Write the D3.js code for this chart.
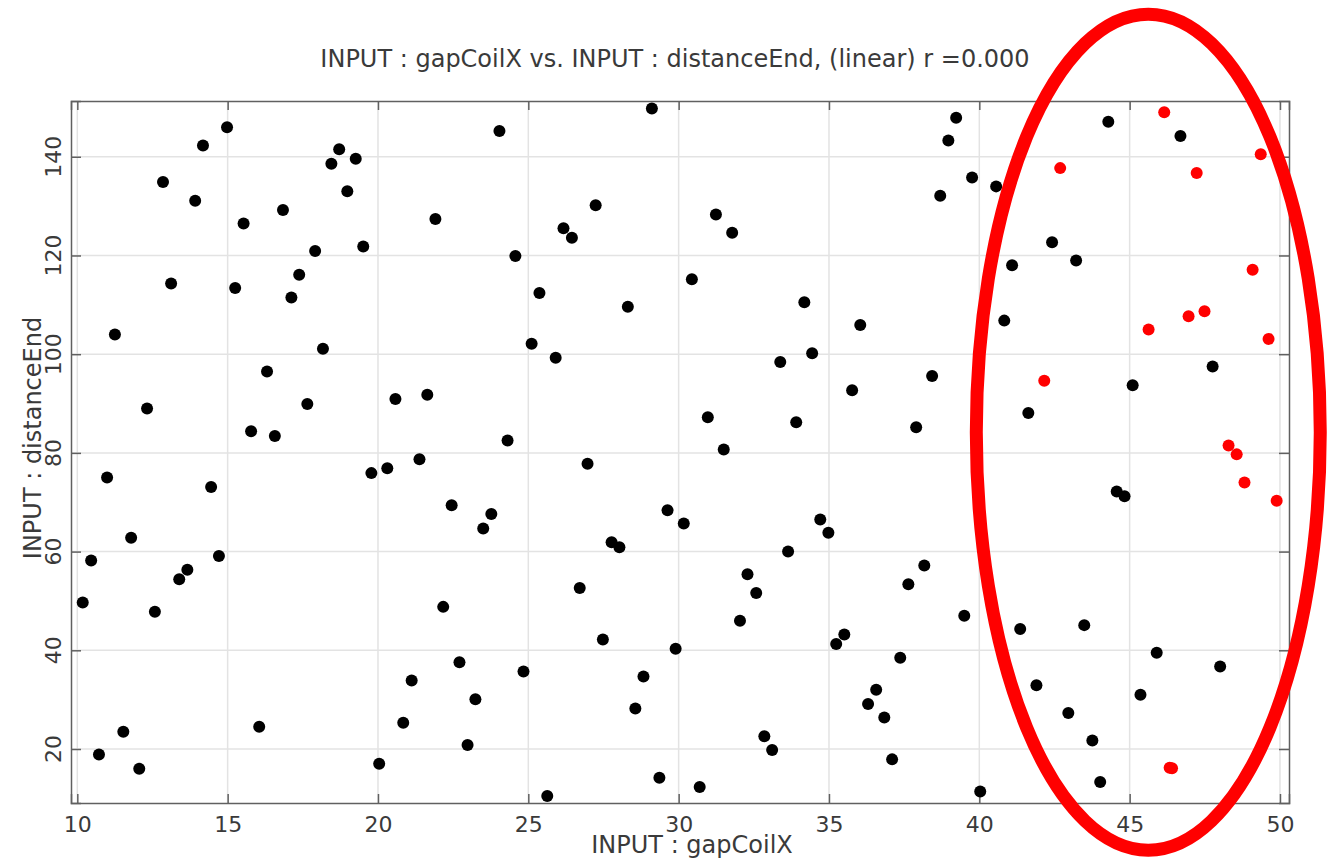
<!DOCTYPE html>
<html>
<head>
<meta charset="utf-8">
<script src="https://cdn.jsdelivr.net/npm/d3@7"></script>
<style>
  body { margin: 0; background: #fff; }
  text { font-family: "DejaVu Sans", sans-serif; fill: #3a3a3a; }
</style>
</head>
<body>
<div id="scatter"></div>
<script>
// black points: gapCoilX / distanceEnd
var gapCoilX = [10.18, 10.46, 10.72, 10.99, 11.25, 11.53, 11.79, 12.06, 12.32, 12.58,
  12.85, 13.12, 13.39, 13.66, 13.92, 14.18, 14.45, 14.71, 14.98, 15.25,
  15.53, 15.78, 16.05, 16.31, 16.57, 16.84, 17.12, 17.38, 17.65, 17.91,
  18.17, 18.45, 18.71, 18.98, 19.26, 19.51, 19.78, 20.04, 20.31, 20.58,
  20.84, 21.12, 21.38, 21.64, 21.91, 22.17, 22.45, 22.71, 22.98, 23.24,
  23.50, 23.77, 24.04, 24.31, 24.57, 24.84, 25.11, 25.37, 25.63, 25.91,
  26.17, 26.45, 26.71, 26.97, 27.24, 27.48, 27.77, 28.03, 28.31, 28.56,
  28.83, 29.11, 29.36, 29.63, 29.90, 30.17, 30.44, 30.70, 30.97, 31.24,
  31.50, 31.78, 32.04, 32.29, 32.58, 32.85, 33.11, 33.38, 33.64, 33.91,
  34.18, 34.44, 34.71, 34.98, 35.24, 35.51, 35.77, 36.04, 36.30, 36.57,
  36.84, 37.10, 37.37, 37.64, 37.90, 38.17, 38.43, 38.70, 38.97, 39.23,
  39.50, 39.76, 40.03, 40.36, 40.56, 40.83, 41.09, 41.36, 41.63, 41.90,
  42.42, 42.96, 43.22, 43.49, 43.76, 44.02, 44.29, 44.57, 44.83, 45.10,
  45.36, 45.90, 46.69, 47.76, 48.01];
var distanceEnd = [49.7, 58.2, 18.9, 75.0, 104.0, 23.5, 62.8, 16.0, 89.0, 47.8,
  134.9, 114.3, 54.4, 56.3, 131.1, 142.3, 73.1, 59.1, 146.0, 113.4,
  126.5, 84.4, 24.5, 96.5, 83.4, 129.2, 111.5, 116.1, 89.9, 120.9,
  101.1, 138.6, 141.5, 133.0, 139.6, 121.8, 75.9, 17.0, 76.9, 90.9,
  25.3, 33.9, 78.7, 91.8, 127.4, 48.8, 69.4, 37.6, 20.8, 30.1,
  64.7, 67.6, 145.2, 82.5, 119.9, 35.7, 102.1, 112.4, 10.5, 99.3,
  125.5, 123.6, 52.6, 77.8, 130.2, 42.2, 61.9, 60.9, 109.6, 28.2,
  34.7, 149.8, 14.2, 68.4, 40.3, 65.7, 115.2, 12.3, 87.2, 128.3,
  80.7, 124.6, 46.0, 55.4, 51.6, 22.6, 19.8, 98.4, 60.0, 86.2,
  110.5, 100.2, 66.5, 63.8, 41.3, 43.2, 92.7, 105.9, 29.1, 32.0,
  26.4, 17.9, 38.5, 53.4, 85.2, 57.2, 95.6, 132.1, 143.3, 147.9,
  47.0, 135.8, 11.4, 50.8, 134.0, 106.8, 118.0, 44.3, 88.1, 32.9,
  122.7, 27.3, 119.0, 45.1, 21.7, 13.3, 147.1, 72.2, 71.2, 93.7,
  31.0, 39.5, 144.2, 97.5, 36.7];

// highlighted (red) points
var redX = [42.16, 42.69, 45.63, 46.15, 46.33, 46.41, 46.96, 47.23, 47.49, 48.29,
  48.56, 48.82, 49.09, 49.36, 49.62, 49.89];
var redY = [94.6, 137.7, 105.0, 149.0, 16.2, 16.1, 107.7, 136.7, 108.7, 81.5,
  79.7, 74.0, 117.1, 140.5, 103.1, 70.3];

var xTicks = [10, 15, 20, 25, 30, 35, 40, 45, 50];
var yTicks = [20, 40, 60, 80, 100, 120, 140];

// hand-drawn ellipse annotation, in data units
var ellipseCenter = [45.62, 84.2];
var ellipseRadius = [5.72, 84.7];

var svgWidth = 1327;
var svgHeight = 858;
var margin = {top: 101, right: 38, bottom: 55, left: 71};
var width = svgWidth - margin.left - margin.right;
var height = svgHeight - margin.top - margin.bottom;

var svg = d3.select('#scatter')
            .append('svg')
            .attr('width', svgWidth)
            .attr('height', svgHeight);

var chartGroup = svg.append('g')
                    .attr('transform', `translate(${margin.left}, ${margin.top})`);

var xScale = d3.scaleLinear().domain([9.79, 50.3]).range([0, width]);
var yScale = d3.scaleLinear().domain([9.06, 151.3]).range([height, 0]);

// grid
chartGroup.append('g')
  .selectAll('line')
  .data(xTicks)
  .enter()
  .append('line')
  .attr('x1', d => xScale(d)).attr('x2', d => xScale(d))
  .attr('y1', 0).attr('y2', height)
  .attr('stroke', '#e3e3e3').attr('stroke-width', 1.5);

chartGroup.append('g')
  .selectAll('line')
  .data(yTicks)
  .enter()
  .append('line')
  .attr('y1', d => yScale(d)).attr('y2', d => yScale(d))
  .attr('x1', 0).attr('x2', width)
  .attr('stroke', '#e3e3e3').attr('stroke-width', 1.5);

// axes, ticks pointing inward on all sides
var bottomAxis = d3.axisBottom(xScale).tickValues(xTicks).tickSize(-9).tickPadding(13);
var topAxis = d3.axisTop(xScale).tickValues(xTicks).tickSize(-9).tickFormat('');
var leftAxis = d3.axisLeft(yScale).tickValues(yTicks).tickSize(-10).tickFormat('');
var rightAxis = d3.axisRight(yScale).tickValues(yTicks).tickSize(-10).tickFormat('');

function styleAxis(g) {
  g.select('.domain').attr('stroke', '#606060').attr('stroke-width', 1.5);
  g.selectAll('.tick line').attr('stroke', '#606060').attr('stroke-width', 1.5);
}

chartGroup.append('g')
  .attr('transform', `translate(0, ${height})`)
  .call(bottomAxis)
  .call(styleAxis)
  .selectAll('text')
  .attr('font-size', '22px')
  .attr('fill', '#3a3a3a');

chartGroup.append('g').call(topAxis).call(styleAxis);
chartGroup.append('g').call(leftAxis).call(styleAxis);
chartGroup.append('g').attr('transform', `translate(${width}, 0)`).call(rightAxis).call(styleAxis);

// rotated y tick labels
chartGroup.append('g')
  .selectAll('text')
  .data(yTicks)
  .enter()
  .append('text')
  .attr('transform', d => `translate(-10, ${yScale(d)}) rotate(-90)`)
  .attr('text-anchor', 'middle')
  .attr('font-size', '22px')
  .text(d => d);

// points
chartGroup.append('g')
  .selectAll('circle')
  .data(gapCoilX)
  .enter()
  .append('circle')
  .attr('cx', d => xScale(d))
  .attr('cy', (d, i) => yScale(distanceEnd[i]))
  .attr('r', 6)
  .attr('fill', '#000');

chartGroup.append('g')
  .selectAll('circle')
  .data(redX)
  .enter()
  .append('circle')
  .attr('cx', d => xScale(d))
  .attr('cy', (d, i) => yScale(redY[i]))
  .attr('r', 6)
  .attr('fill', '#ff0000');

// annotation ellipse
chartGroup.append('ellipse')
  .attr('cx', xScale(ellipseCenter[0]))
  .attr('cy', yScale(ellipseCenter[1]))
  .attr('rx', xScale(ellipseCenter[0] + ellipseRadius[0]) - xScale(ellipseCenter[0]))
  .attr('ry', yScale(ellipseCenter[1]) - yScale(ellipseCenter[1] + ellipseRadius[1]))
  .attr('fill', 'none')
  .attr('stroke', '#ff0000')
  .attr('stroke-width', 13);

// titles
svg.append('text')
  .attr('x', 675)
  .attr('y', 67)
  .attr('text-anchor', 'middle')
  .attr('font-size', '24px')
  .text('INPUT : gapCoilX vs. INPUT : distanceEnd, (linear) r =0.000');

svg.append('text')
  .attr('x', 692)
  .attr('y', 853)
  .attr('text-anchor', 'middle')
  .attr('font-size', '24px')
  .text('INPUT : gapCoilX');

svg.append('text')
  .attr('transform', 'translate(41, 438) rotate(-90)')
  .attr('text-anchor', 'middle')
  .attr('font-size', '24px')
  .text('INPUT : distanceEnd');
</script>
</body>
</html>
